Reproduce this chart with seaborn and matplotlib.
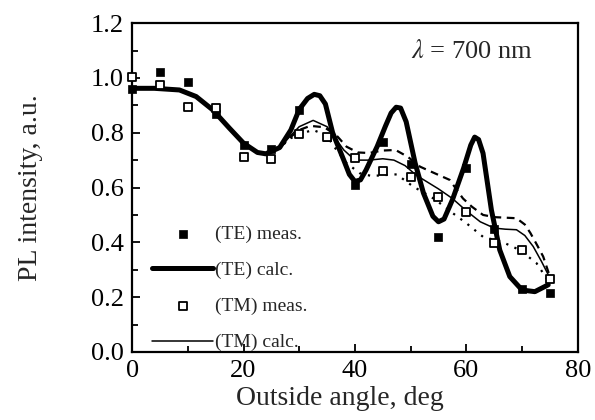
import numpy as np
import pandas as pd
import seaborn as sns
import matplotlib.pyplot as plt

# measured points (every 5 deg)
meas_angle = [0, 5, 10, 15, 20, 25, 30, 35, 40, 45, 50, 55, 60, 65, 70, 75]
te_meas = [0.96, 1.023, 0.986, 0.868, 0.755, 0.74, 0.883, 0.786, 0.609, 0.767,
           0.685, 0.42, 0.673, 0.45, 0.228, 0.216]
tm_meas = [1.003, 0.974, 0.895, 0.89, 0.713, 0.704, 0.795, 0.785, 0.706, 0.66,
           0.64, 0.567, 0.512, 0.398, 0.372, 0.268]

# calculated curves
common_x = [0, 4, 8.5, 11.5, 14.5, 17.5, 20, 22.5, 24, 26.5]
common_y = [0.962, 0.962, 0.956, 0.932, 0.883, 0.816, 0.762, 0.728, 0.723, 0.746]

te_calc_x = common_x + [28.5, 30, 31.5, 32.7, 33.7, 34.7, 36, 38, 39, 40, 41, 42,
                        44, 45.5, 46.5, 47.4, 48.2, 49.2, 50.8, 52.3, 54, 55, 56,
                        57.5, 59.5, 60.8, 61.5, 62.2, 63, 64.5, 66, 67.8, 70, 72.3, 74.7]
te_calc_y = common_y + [0.81, 0.885, 0.925, 0.94, 0.935, 0.905, 0.80, 0.70, 0.648, 0.622,
                        0.628, 0.664, 0.75, 0.825, 0.872, 0.893, 0.89, 0.84, 0.69, 0.58,
                        0.495, 0.475, 0.485, 0.555, 0.67, 0.755, 0.784, 0.775, 0.725,
                        0.518, 0.372, 0.275, 0.226, 0.22, 0.245]

tm_calc_x = common_x + [28.5, 30, 32.5, 35, 38, 40, 42.5, 45, 47, 49, 51, 53, 55,
                        57.5, 60, 62.5, 65, 67, 69, 70.5, 72, 73.5, 75]
tm_calc_y = common_y + [0.79, 0.822, 0.845, 0.822, 0.737, 0.70, 0.70, 0.705, 0.70,
                        0.68, 0.645, 0.62, 0.595, 0.56, 0.515, 0.475, 0.452, 0.448,
                        0.446, 0.425, 0.385, 0.33, 0.27]

dash_x = common_x + [28.5, 30, 32, 34.5, 36.7, 38.5, 40.5, 42.5, 45, 47.3, 49.5,
                     51.7, 54, 57, 59.4, 61, 63, 65, 67, 69, 70.5, 71.5, 72.7, 73.8, 75]
dash_y = common_y + [0.785, 0.81, 0.825, 0.82, 0.79, 0.749, 0.728, 0.726, 0.735,
                     0.737, 0.712, 0.676, 0.655, 0.628, 0.56, 0.53, 0.50, 0.492,
                     0.49, 0.488, 0.465, 0.434, 0.39, 0.348, 0.275]

dot_x = common_x + [28.5, 30, 32.5, 34.9, 36.7, 38.5, 40.9, 43, 45, 47.5, 50.5,
                    52.5, 54.5, 57, 60, 63, 66.6, 69.6, 72.6, 75]
dot_y = common_y + [0.78, 0.795, 0.81, 0.79, 0.737, 0.689, 0.652, 0.642, 0.645,
                    0.648, 0.603, 0.58, 0.555, 0.515, 0.47, 0.42, 0.40, 0.372,
                    0.324, 0.25]

sns.set_theme(style='ticks')
plt.rcParams['font.family'] = ['Liberation Serif', 'DejaVu Serif']
plt.rcParams['mathtext.fontset'] = 'stix'

fig = plt.figure(figsize=(5.95, 4.2), dpi=100)
ax = fig.add_axes([0.222, 0.162, 0.749, 0.783])

sns.lineplot(x=dash_x, y=dash_y, ax=ax, color='black', lw=1.6,
             linestyle=(0, (3.5, 2.5)), sort=False, estimator=None)
sns.lineplot(x=dot_x, y=dot_y, ax=ax, color='black', lw=1.6,
             linestyle=(0, (1, 3)), sort=False, estimator=None)
sns.lineplot(x=tm_calc_x, y=tm_calc_y, ax=ax, color='black', lw=1.1,
             sort=False, estimator=None, label='(TM) calc.')
sns.lineplot(x=te_calc_x, y=te_calc_y, ax=ax, color='black', lw=3.6,
             sort=False, estimator=None, label='(TE) calc.')
sns.scatterplot(x=meas_angle, y=te_meas, ax=ax, marker='s', s=40, color='black',
                edgecolor='black', linewidth=0.5, label='(TE) meas.', clip_on=False, zorder=5)
sns.scatterplot(x=meas_angle, y=tm_meas, ax=ax, marker='s', s=38, facecolor='white',
                edgecolor='black', linewidth=1.3, label='(TM) meas.', clip_on=False, zorder=6)

ax.set_xlim(0, 80)
ax.set_ylim(0, 1.2)
ax.set_xticks([0, 20, 40, 60, 80])
ax.set_xticks([10, 30, 50, 70], minor=True)
ax.set_yticks(np.arange(0, 1.21, 0.2))
ax.set_yticks(np.arange(0.1, 1.2, 0.2), minor=True)
ax.set_yticklabels(['0.0', '0.2', '0.4', '0.6', '0.8', '1.0', '1.2'])
ax.tick_params(which='both', direction='in', top=False, right=False,
               colors='black', labelsize=19, width=1.3)
ax.tick_params(which='major', length=6, pad=6)
ax.tick_params(which='minor', length=4)
for sp in ax.spines.values():
    sp.set_visible(True)
    sp.set_linewidth(1.6)
    sp.set_color('black')

ax.set_xlabel('Outside angle, deg', fontsize=20)
ax.set_ylabel('PL intensity, a.u.', fontsize=20)
ax.xaxis.set_label_coords(0.466, -0.105)
ax.yaxis.set_label_coords(-0.2, 0.5)

ax.text(61, 1.095, r'$\lambda$ = 700 nm', fontsize=19, ha='center', va='center')

handles, labels = ax.get_legend_handles_labels()
order = ['(TE) meas.', '(TE) calc.', '(TM) meas.', '(TM) calc.']
hmap = dict(zip(labels, handles))
ax.legend([hmap[k] for k in order], order, loc='lower left',
          bbox_to_anchor=(0.027, -0.022), frameon=False, fontsize=14,
          handlelength=3.15, handletextpad=0.1, labelspacing=0.95,
          borderaxespad=0)

fig.savefig('out.png', dpi=100)
